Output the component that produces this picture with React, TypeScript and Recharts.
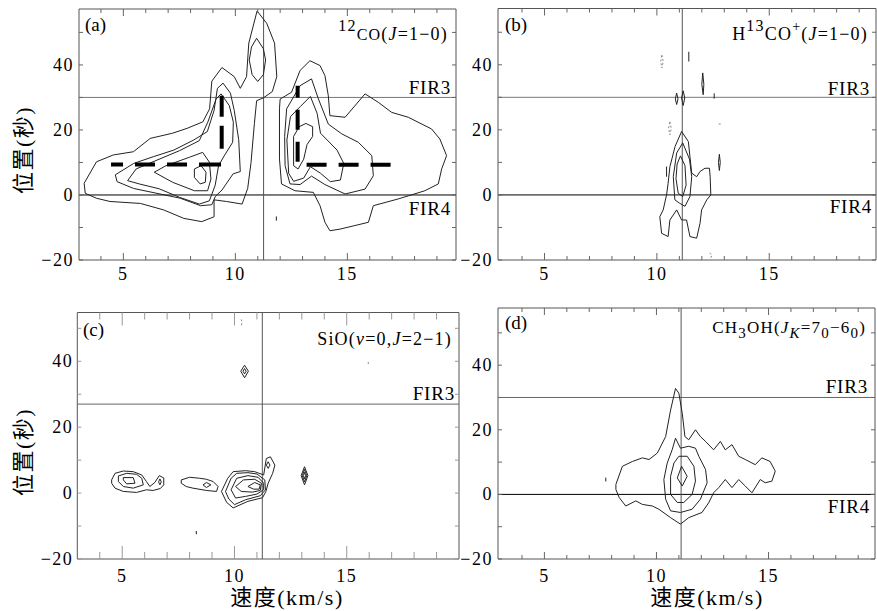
import React from 'react';
import { LineChart, Line, XAxis, YAxis, ReferenceLine } from 'recharts';

type Pt = [number, number];

const SERIF = "'Liberation Serif','Noto Sans CJK SC',serif";

// ---------- tick values ----------
const X_TICKS = [4, 5, 6, 7, 8, 9, 10, 11, 12, 13, 14, 15, 16, 17, 18, 19];
const X_LABELS = [5, 10, 15];
const Y_TICKS = [-20, -10, 0, 10, 20, 30, 40, 50];
const Y_LABELS = [-20, 0, 20, 40];

// ---------- panel (a) 12CO ----------
const A_L1: Pt[] = [[3.25,3.6],[3.8,10.2],[4.55,12.3],[5.45,13.3],[6.2,17.4],[7.2,19],[7.85,20.5],[8.55,22.5],[8.85,26.5],[8.95,35],[9.4,39.2],[9.95,36.4],[10.22,32.8],[10.5,36.4],[10.6,46.7],[10.97,56.6],[11.4,52.8],[11.75,46.7],[11.85,36.4],[11.65,31.8],[11.26,29.9],[10.95,29],[10.85,22],[10.7,10],[10.55,2],[10.3,-2.8],[9.6,-2],[9.05,-1.5],[9.05,-6.7],[8.5,-8.2],[7.7,-7.2],[6.8,-4.6],[5.76,-2.6],[4.4,-2],[3.8,-1],[3.3,0.5],[3.25,3.6]];
const A_L2: Pt[] = [[4.64,6.2],[5.46,9.7],[6.35,11.8],[7.25,13.8],[8.14,16.9],[8.75,19.5],[9.05,26],[9.2,32.8],[9.45,34.4],[9.78,31.3],[9.95,26],[10.15,17],[10.22,7.2],[9.9,6.5],[9.4,1.5],[9.1,-0.5],[8.95,-3],[8.45,-3.3],[7.54,-1],[6.5,0.5],[5.46,2],[4.72,4.1],[4.64,6.2]];
const A_L3: Pt[] = [[5.19,4.4],[5.57,8],[6.46,10.6],[7.5,13.6],[8.39,16.7],[8.77,22.4],[9.14,29.5],[9.36,31.1],[9.73,27.5],[9.91,22.4],[9.88,16.2],[9.5,12],[9.25,9],[9.1,3],[8.84,-1.8],[8.39,-2.8],[7.5,-0.7],[6.6,1.9],[5.71,3.4],[5.19,4.4]];
const A_L4: Pt[] = [[6.38,7],[6.9,9],[7.95,11.6],[8.54,13.1],[8.84,10.1],[8.91,4.9],[8.76,1.3],[8.17,1.3],[7.2,3.9],[6.38,7]];
const A_L5: Pt[] = [[8.17,8],[8.47,9],[8.69,7],[8.66,3.9],[8.43,3.4],[8.17,5.4],[8.17,8]];
const A_TALL: Pt[] = [[10.95,48.2],[11.25,45],[11.35,41.5],[11.25,37],[11.0,34.9],[10.75,37],[10.62,41.5],[10.72,45.5],[10.95,48.2]];
const A_R1: Pt[] = [[12.0,29.5],[12.51,31.6],[12.89,38.3],[13.33,41.3],[13.78,39.8],[14.0,36.7],[14.15,30.5],[14.22,24.4],[14.9,23.9],[15.79,31.1],[16.38,28.5],[16.98,25.4],[17.72,23.9],[18.76,20.3],[19.13,17.2],[19.43,12.1],[19.21,8],[19.06,3.4],[18.46,1.3],[17.28,-1.2],[16.16,-3.3],[15.94,-8.4],[15.34,-9.4],[14.67,-10.5],[14.22,-11],[14.0,-8.4],[13.78,-3.3],[13.48,0.8],[12.66,1.3],[12.06,3.4],[11.97,11.1],[11.97,26.5],[12.0,29.5]];
const A_R2: Pt[] = [[12.2,18],[12.29,26.5],[12.89,33.6],[13.4,35.7],[13.71,29.5],[14.15,21.8],[14.75,18.8],[15.49,16.2],[16.09,12.1],[16.16,5.9],[15.79,1.8],[14.9,0.3],[14.0,3.2],[13.4,5.8],[12.89,3.2],[12.44,3.4],[12.22,9],[12.2,18]];
const A_R3: Pt[] = [[12.3,16.9],[12.46,24.1],[12.9,27.2],[13.35,30.3],[13.65,25.1],[13.8,19],[14.54,13.8],[14.84,9.7],[14.69,4.6],[14.24,4.1],[13.8,6.7],[13.35,8.7],[13.05,5.2],[12.6,4.2],[12.38,6.7],[12.3,16.9]];
const A_R4: Pt[] = [[12.6,9],[12.6,18],[12.85,21],[13.15,22],[13.45,21],[13.45,18],[13.2,15.5],[13.05,11],[12.8,8],[12.6,9]];
const A_SPECK: Pt[] = [[11.83,-6.6],[11.83,-7.9]];
const A_DASH_LH: Pt[] = [[4.45,9.4],[9.36,9.4]];
const A_DASH_LV: Pt[] = [[9.39,30.5],[9.39,14.2]];
const A_DASH_RV: Pt[] = [[12.78,33.6],[12.78,9.5]];
const A_DASH_RH: Pt[] = [[13.18,9.3],[17.05,9.3]];

// ---------- panel (b) H13CO+ ----------
const B_L1: Pt[] = [[11.1,19.5],[11.4,16.4],[11.47,11.8],[11.55,6.7],[11.77,5.6],[11.92,7.2],[12.14,8.2],[12.34,8.2],[12.37,5.6],[12.4,0],[12.22,-1.5],[11.99,-4.6],[11.92,-8.7],[11.77,-13.3],[11.47,-12.8],[11.32,-7.7],[11.1,-7.7],[10.88,-4.6],[10.58,-7.7],[10.5,-12.8],[10.21,-11.8],[10.13,-6.7],[10.28,-4.6],[10.43,0],[10.5,3.6],[10.58,8.7],[10.81,14.9],[11.1,19.5]];
const B_L2: Pt[] = [[11.15,16],[11.45,11],[11.55,5.6],[11.47,-0.5],[11.25,-3.5],[11.0,-2.5],[10.8,-1.5],[10.73,5.6],[10.88,12.9],[11.15,16]];
const B_L3: Pt[] = [[11.05,12],[11.25,9],[11.3,3],[11.15,-0.5],[10.95,0.5],[10.85,5],[10.9,9.5],[11.05,12]];
const B_S1: Pt[] = [[10.22,43],[10.28,41],[10.22,39],[10.17,41],[10.22,43]];
const B_S2: Pt[] = [[11.42,44],[11.42,41]];
const B_S3: Pt[] = [[12.04,37.5],[12.09,34],[12.06,30.8],[12.0,34],[12.04,37.5]];
const B_S4: Pt[] = [[10.88,31.3],[10.94,29.5],[10.88,27.8],[10.82,29.5],[10.88,31.3]];
const B_S5: Pt[] = [[11.17,32],[11.24,29.8],[11.17,27.5],[11.1,29.8],[11.17,32]];
const B_S6: Pt[] = [[12.55,31.2],[12.55,29.6]];
const B_S7: Pt[] = [[12.75,21.8],[12.85,21.8]];
const B_S8: Pt[] = [[12.78,12.5],[12.82,10],[12.78,7.5],[12.74,10],[12.78,12.5]];
const B_S9: Pt[] = [[10.58,22.5],[10.64,20.5],[10.58,18.5],[10.52,20.5],[10.58,22.5]];
const B_S10: Pt[] = [[10.43,8.7],[10.43,5.6]];
const B_S11: Pt[] = [[12.35,-17.8],[12.45,-18.6],[12.4,-19.3]];

// ---------- panel (c) SiO ----------
const C_A1: Pt[] = [[4.53,4],[4.68,6],[5.05,6.7],[5.49,6.5],[5.87,5.5],[6.08,3.5],[6.23,2],[6.45,3.2],[6.65,5.3],[6.85,4.6],[6.85,2.5],[6.7,1.4],[6.38,0.8],[6.08,1],[5.64,0.2],[5.05,0.5],[4.68,1.5],[4.53,3],[4.53,4]];
const C_A2: Pt[] = [[4.83,5.2],[5.2,6],[5.64,5.7],[5.87,4.5],[5.94,2.5],[5.49,1.5],[5.05,2],[4.83,3.5],[4.83,5.2]];
const C_A3: Pt[] = [[5.05,4.7],[5.49,4.7],[5.57,3],[5.2,2.8],[5.05,4],[5.05,4.7]];
const C_A4: Pt[] = [[6.68,4.3],[6.74,3.4],[6.68,2.5],[6.62,3.4],[6.68,4.3]];
const C_B1: Pt[] = [[7.63,4],[8.0,4.8],[8.45,4.5],[8.75,4.2],[9.05,3.5],[9.27,2],[9.2,0.5],[8.75,0.8],[8.15,1.5],[7.85,2],[7.63,3],[7.63,4]];
const C_B2: Pt[] = [[8.75,3.2],[8.95,2.5],[8.75,1.7],[8.6,2.5],[8.75,3.2]];
const C_C1: Pt[] = [[9.42,0.5],[9.7,4.5],[9.94,6.5],[10.5,6.8],[10.9,6.5],[11.3,5.5],[11.42,10.5],[11.6,11],[11.8,8.5],[11.7,6],[11.5,3],[11.4,0.5],[11.25,-1.4],[10.6,-2.5],[9.94,-4.5],[9.65,-2.8],[9.42,0.5]];
const C_C2: Pt[] = [[9.6,0.5],[9.85,4.5],[10.1,6],[10.6,6.2],[11.0,5.8],[11.35,4],[11.38,1],[11.15,-0.8],[10.5,-2],[10.0,-3.5],[9.75,-1.8],[9.6,0.5]];
const C_C3: Pt[] = [[9.85,1],[10.1,4.5],[10.6,5.3],[11.05,4.8],[11.3,3],[11.3,1],[11.0,-0.3],[10.5,-1],[10.05,-1.5],[9.85,1]];
const C_C4: Pt[] = [[10.05,2],[10.4,4],[10.9,4.2],[11.2,3],[11.15,0.8],[10.8,0.3],[10.3,0.5],[10.05,2]];
const C_C5: Pt[] = [[10.6,2],[10.9,3.2],[11.15,2.5],[11.1,1.2],[10.85,1.2],[10.6,2]];
const C_C6: Pt[] = [[11.5,9.5],[11.58,8.5],[11.5,7.5],[11.42,8.5],[11.5,9.5]];
const C_D1: Pt[] = [[10.45,38.8],[10.62,37],[10.45,35],[10.28,37],[10.45,38.8]];
const C_D2: Pt[] = [[10.45,37.8],[10.52,37],[10.45,36.2],[10.38,37],[10.45,37.8]];
const C_E1: Pt[] = [[13.12,8],[13.27,5.3],[13.12,2.5],[12.97,5.3],[13.12,8]];
const C_E2: Pt[] = [[13.12,7.2],[13.22,5.3],[13.12,3.4],[13.02,5.3],[13.12,7.2]];
const C_E3: Pt[] = [[13.12,6.3],[13.17,5.3],[13.12,4.3],[13.07,5.3],[13.12,6.3]];
const C_S1: Pt[] = [[10.3,52.7],[10.34,51.8],[10.3,50.8]];
const C_S2: Pt[] = [[8.3,-11.5],[8.3,-12.5]];
const C_S3: Pt[] = [[15.96,39.2],[15.96,39.8]];

// ---------- panel (d) CH3OH ----------
const D_L1: Pt[] = [[8.19,3.1],[8.48,8.7],[8.93,10.2],[9.37,11.3],[9.67,10.8],[10.04,12.8],[10.41,17.9],[10.63,26.1],[10.85,32.8],[11.0,31.3],[11.15,25.1],[11.27,17.9],[11.44,16.9],[11.74,20],[11.96,17.9],[12.19,16.4],[12.55,13.8],[12.85,16.4],[13.07,13.8],[13.37,15.4],[13.67,11.8],[13.96,10.8],[14.41,9.2],[14.7,11.3],[15.07,10.2],[15.3,7.2],[15.15,4.1],[14.85,3.6],[14.63,4.6],[14.26,0.5],[13.96,2.6],[13.67,4.6],[13.37,2.1],[13.07,4.6],[12.78,2.1],[12.55,0.5],[12.33,-2.6],[12.03,-5.6],[11.44,-7.2],[11.07,-9.2],[10.63,-7.2],[10.11,-4.6],[9.82,-3.6],[9.37,-3.1],[9.08,-2],[8.63,-3.6],[8.34,-1.0],[8.19,1.5],[8.19,3.1]];
const D_L2: Pt[] = [[10.85,17.4],[11.07,14.3],[11.44,14.9],[11.74,14.3],[11.89,11.8],[12.19,7.7],[12.26,3.6],[11.96,-1.5],[11.59,-4.6],[11.07,-5.6],[10.63,-5.1],[10.41,-1.5],[10.33,4.6],[10.48,9.7],[10.7,13.8],[10.85,17.4]];
const D_L3: Pt[] = [[11.0,11.8],[11.37,11.8],[11.67,8.7],[11.74,4.1],[11.59,0],[11.22,-2.5],[10.93,-2.5],[10.63,0],[10.63,5.6],[10.78,9.7],[11.0,11.8]];
const D_L4: Pt[] = [[11.12,8.7],[11.37,5.6],[11.15,2.6],[10.93,5.1],[11.12,8.7]];
const D_S1: Pt[] = [[7.74,4],[7.74,5.2]];

// ---------- reference positions ----------
const V_LINES = { a: 11.26, b: 11.13, c: 11.24, d: 11.1 };
const FIR3 = { a: 30, b: 30, c: 27, d: 30 };
const FIR4 = 0;

interface Curve { pts: Pt[]; color?: string; width?: number; dash?: string; }

const solid = (pts: Pt[]): Curve => ({ pts });
const grey = (pts: Pt[]): Curve => ({ pts, color: '#888', dash: '2 2' });

interface Spec {
  id: string;
  chart: { l: number; t: number; w: number; h: number };
  plot: { l: number; t: number; r: number; b: number };
  xDomain: [number, number];
  yDomain: [number, number];
  vLine: number;
  hLines: { y: number; color: string }[];
  curves: Curve[];
  tick: { minor: number; major: number; color: string; xGap: number; yGap: number };
}

const SPECS: Spec[] = [
  {
    id: 'a',
    chart: { l: 0, t: 0, w: 477, h: 300 },
    plot: { l: 79, t: 9, r: 456, b: 260 },
    xDomain: [3.02, 19.85],
    yDomain: [-20, 57.2],
    vLine: V_LINES.a,
    hLines: [{ y: FIR3.a, color: '#777' }, { y: FIR4, color: '#000' }],
    curves: [
      solid(A_L1), solid(A_L2), solid(A_L3), solid(A_L4), solid(A_L5), solid(A_TALL),
      solid(A_R1), solid(A_R2), solid(A_R3), solid(A_R4), solid(A_SPECK),
      { pts: A_DASH_LH, width: 4, dash: '12 12 20 12 20 12 22', color: '#000' },
      { pts: A_DASH_LV, width: 4, dash: '21 9 23', color: '#000' },
      { pts: A_DASH_RV, width: 4, dash: '12 12 20 12 20', color: '#000' },
      { pts: A_DASH_RH, width: 4, dash: '20 12 20 12 20', color: '#000' },
    ],
    tick: { minor: 4, major: 7, color: '#666', xGap: 20, yGap: 5 },
  },
  {
    id: 'b',
    chart: { l: 440, t: 0, w: 437, h: 300 },
    plot: { l: 498, t: 8.5, r: 876, b: 260 },
    xDomain: [2.93, 19.75],
    yDomain: [-20, 57.3],
    vLine: V_LINES.b,
    hLines: [{ y: FIR3.b, color: '#777' }, { y: FIR4, color: '#000' }],
    curves: [
      solid(B_L1), solid(B_L2), solid(B_L3),
      grey(B_S1), solid(B_S2), solid(B_S3), solid(B_S4), solid(B_S5), solid(B_S6),
      grey(B_S7), solid(B_S8), grey(B_S9), solid(B_S10), grey(B_S11),
    ],
    tick: { minor: 4, major: 7, color: '#666', xGap: 20, yGap: 5 },
  },
  {
    id: 'c',
    chart: { l: 0, t: 300, w: 477, h: 311 },
    plot: { l: 77.3, t: 312.5, r: 459, b: 559 },
    xDomain: [3, 20],
    yDomain: [-20, 54.8],
    vLine: V_LINES.c,
    hLines: [{ y: FIR3.c, color: '#666' }],
    curves: [
      solid(C_A1), solid(C_A2), solid(C_A3), solid(C_A4), solid(C_B1), solid(C_B2),
      solid(C_C1), solid(C_C2), solid(C_C3), solid(C_C4), solid(C_C5), solid(C_C6),
      solid(C_D1), solid(C_D2), solid(C_E1), solid(C_E2), solid(C_E3),
      grey(C_S1), solid(C_S2), grey(C_S3),
    ],
    tick: { minor: 7, major: 13, color: '#999', xGap: 23, yGap: 4 },
  },
  {
    id: 'd',
    chart: { l: 440, t: 300, w: 437, h: 311 },
    plot: { l: 498, t: 308, r: 875, b: 559 },
    xDomain: [2.93, 19.75],
    yDomain: [-20, 57.7],
    vLine: V_LINES.d,
    hLines: [{ y: FIR3.d, color: '#666' }, { y: FIR4, color: '#000' }],
    curves: [solid(D_L1), solid(D_L2), solid(D_L3), solid(D_L4), solid(D_S1)],
    tick: { minor: 4, major: 7, color: '#666', xGap: 23, yGap: 5 },
  },
];

const fmt = (v: number) => (v < 0 ? '\u2212' + Math.abs(v) : String(v));

function Panel({ s }: { s: Spec }) {
  // each axis occupies 1px outside the plot area
  const margin = {
    left: s.plot.l - s.chart.l - 1,
    top: s.plot.t - s.chart.t - 1,
    right: s.chart.l + s.chart.w - s.plot.r - 1,
    bottom: s.chart.t + s.chart.h - s.plot.b - 1,
  };
  const t = s.tick;
  const bottomTick = (p: any) => {
    const v = p.payload.value;
    const major = X_LABELS.includes(v);
    return (
      <g>
        <line x1={p.x} x2={p.x} y1={p.y} y2={p.y - (major ? t.major : t.minor)} stroke={t.color} strokeWidth={1} />
        {major && (
          <text x={p.x} y={p.y + t.xGap} textAnchor="middle" fontFamily={SERIF} fontSize={18} letterSpacing={1.5} fill="#000">{v}</text>
        )}
      </g>
    );
  };
  const topTick = (p: any) => {
    const v = p.payload.value;
    const major = X_LABELS.includes(v);
    return <line x1={p.x} x2={p.x} y1={p.y} y2={p.y + (major ? t.major : t.minor)} stroke={t.color} strokeWidth={1} />;
  };
  const leftTick = (p: any) => {
    const v = p.payload.value;
    return (
      <g>
        <line x1={p.x} x2={p.x + 4} y1={p.y} y2={p.y} stroke={t.color} strokeWidth={1} />
        {Y_LABELS.includes(v) && (
          <text x={p.x - t.yGap} y={p.y + 6} textAnchor="end" fontFamily={SERIF} fontSize={18} letterSpacing={1.5} fill="#000">{fmt(v)}</text>
        )}
      </g>
    );
  };
  const rightTick = (p: any) => (
    <line x1={p.x} x2={p.x - 4} y1={p.y} y2={p.y} stroke={t.color} strokeWidth={1} />
  );
  return (
    <div style={{ position: 'absolute', left: s.chart.l, top: s.chart.t }}>
      <LineChart width={s.chart.w} height={s.chart.h} margin={margin}>
        <XAxis xAxisId={0} type="number" dataKey="x" domain={s.xDomain} allowDataOverflow ticks={X_TICKS} interval={0}
          height={1} tickSize={0} tickMargin={0} tickLine={false} axisLine={{ stroke: '#555' }} tick={bottomTick} />
        <XAxis xAxisId="top" orientation="top" type="number" dataKey="x" domain={s.xDomain} allowDataOverflow ticks={X_TICKS} interval={0}
          height={1} tickSize={0} tickMargin={0} tickLine={false} axisLine={{ stroke: '#555' }} tick={topTick} />
        <YAxis yAxisId={0} type="number" dataKey="y" domain={s.yDomain} allowDataOverflow ticks={Y_TICKS} interval={0}
          width={1} tickSize={0} tickMargin={0} tickLine={false} axisLine={{ stroke: '#555' }} tick={leftTick} />
        <YAxis yAxisId="right" orientation="right" type="number" dataKey="y" domain={s.yDomain} allowDataOverflow ticks={Y_TICKS} interval={0}
          width={1} tickSize={0} tickMargin={0} tickLine={false} axisLine={{ stroke: '#555' }} tick={rightTick} />
        {s.hLines.map((h, i) => (
          <ReferenceLine key={'h' + i} xAxisId={0} yAxisId={0} y={h.y} stroke={h.color} strokeWidth={1} />
        ))}
        <ReferenceLine xAxisId={0} yAxisId={0} x={s.vLine} stroke="#555" strokeWidth={1} />
        {s.curves.map((c, i) => (
          <Line
            key={s.id + i}
            xAxisId={0}
            yAxisId={0}
            data={c.pts.map(([x, y]) => ({ x, y }))}
            dataKey="y"
            type="linear"
            stroke={c.color || '#222'}
            strokeWidth={c.width || 1}
            strokeDasharray={c.dash}
            dot={false}
            activeDot={false}
            isAnimationActive={false}
          />
        ))}
      </LineChart>
    </div>
  );
}

function Annotations() {
  const fir = { fontSize: 19, letterSpacing: 0.8 } as const;
  const lab = { fontSize: 18, letterSpacing: 1.2 } as const;
  return (
    <svg width={877} height={611} style={{ position: 'absolute', left: 0, top: 0, pointerEvents: 'none' }}
      fontFamily={SERIF} fill="#000">
      {/* panel a */}
      <text x={85} y={31} fontSize={19}>(a)</text>
      <text x={448} y={40} textAnchor="end" {...lab}>
        <tspan fontSize={16} dy={-9}>12</tspan>
        <tspan fontSize={16} dy={9}>CO</tspan>
        <tspan>(</tspan>
        <tspan fontStyle="italic">J</tspan>
        <tspan>=1{'\u2212'}0)</tspan>
      </text>
      <text x={451} y={94} textAnchor="end" {...fir}>FIR3</text>
      <text x={451} y={215} textAnchor="end" {...fir}>FIR4</text>

      {/* panel b */}
      <text x={505} y={31} fontSize={19}>(b)</text>
      <text x={868} y={40} textAnchor="end" {...lab}>
        <tspan>H</tspan>
        <tspan fontSize={16} dy={-9}>13</tspan>
        <tspan dy={9}>CO</tspan>
        <tspan fontSize={14} dy={-9}>+</tspan>
        <tspan dy={9}>(</tspan>
        <tspan fontStyle="italic">J</tspan>
        <tspan>=1{'\u2212'}0)</tspan>
      </text>
      <text x={870} y={95} textAnchor="end" {...fir}>FIR3</text>
      <text x={872} y={213} textAnchor="end" {...fir}>FIR4</text>

      {/* panel c */}
      <text x={83} y={336} fontSize={19}>(c)</text>
      <text x={452} y={345} textAnchor="end" {...lab}>
        <tspan>SiO(</tspan>
        <tspan fontStyle="italic">v</tspan>
        <tspan>=0,</tspan>
        <tspan fontStyle="italic">J</tspan>
        <tspan>=2{'\u2212'}1)</tspan>
      </text>
      <text x={455} y={400} textAnchor="end" {...fir}>FIR3</text>

      {/* panel d */}
      <text x={505} y={329} fontSize={19}>(d)</text>
      <text x={866} y={333} fontSize={17} letterSpacing={1.2} textAnchor="end">
        <tspan>CH</tspan>
        <tspan fontSize={15} dy={5}>3</tspan>
        <tspan dy={-5}>OH(</tspan>
        <tspan fontStyle="italic">J</tspan>
        <tspan fontStyle="italic" fontSize={15} dy={5}>K</tspan>
        <tspan dy={-5}>=7</tspan>
        <tspan fontSize={15} dy={5}>0</tspan>
        <tspan dy={-5}>{'\u2212'}6</tspan>
        <tspan fontSize={15} dy={5}>0</tspan>
        <tspan dy={-5}>)</tspan>
      </text>
      <text x={868} y={393} textAnchor="end" {...fir}>FIR3</text>
      <text x={870} y={513} textAnchor="end" {...fir}>FIR4</text>

      {/* axis titles */}
      <text x={23} y={150} fontSize={22} letterSpacing={1.5} textAnchor="middle" dominantBaseline="central" transform="rotate(-90 23 150)">位置(秒)</text>
      <text x={23} y={452} fontSize={22} letterSpacing={1.5} textAnchor="middle" dominantBaseline="central" transform="rotate(-90 23 452)">位置(秒)</text>
      <text x={287} y={605} fontSize={22} letterSpacing={1.5} textAnchor="middle">速度(km/s)</text>
      <text x={707} y={605} fontSize={22} letterSpacing={1.5} textAnchor="middle">速度(km/s)</text>
    </svg>
  );
}

export default function App() {
  return (
    <div style={{ position: 'absolute', left: 0, top: 0, width: 877, height: 611, background: '#fff', overflow: 'hidden' }}>
      {SPECS.map((s) => (
        <Panel key={s.id} s={s} />
      ))}
      <Annotations />
    </div>
  );
}
